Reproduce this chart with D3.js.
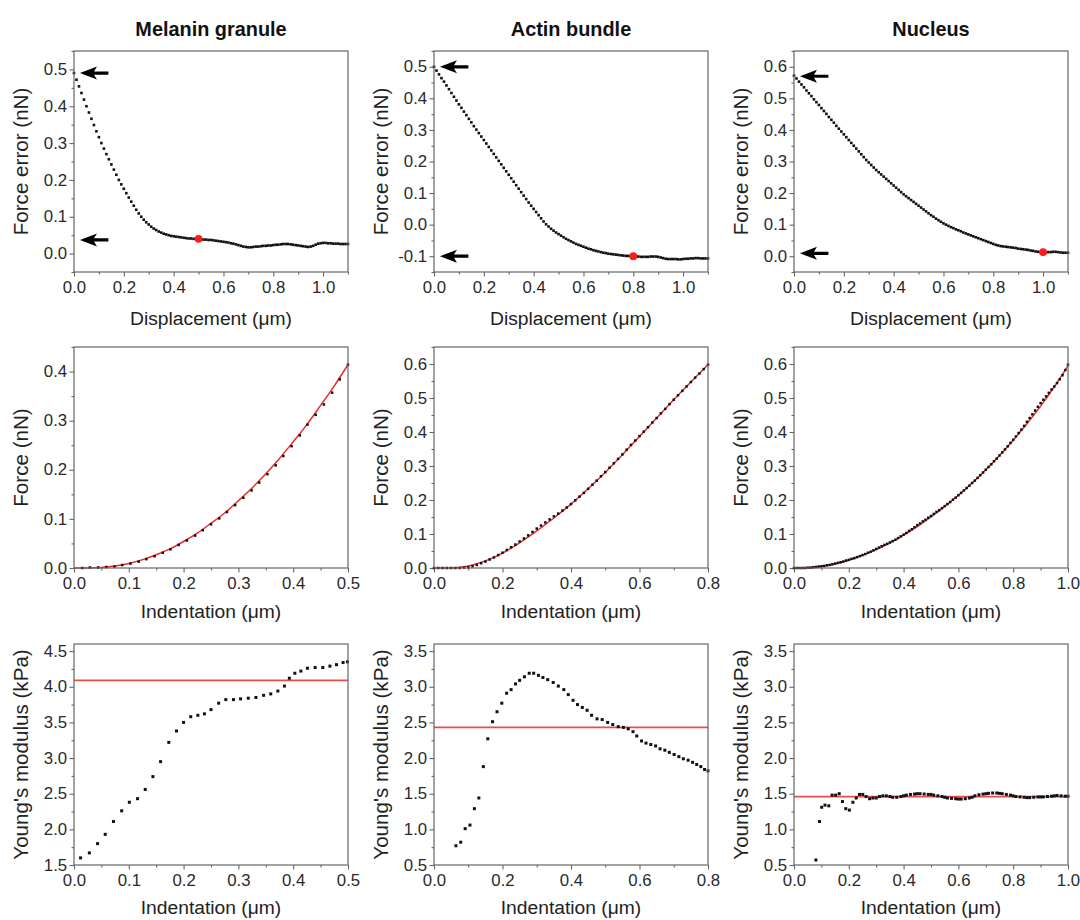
<!DOCTYPE html>
<html>
<head>
<meta charset="utf-8">
<script src="https://cdn.jsdelivr.net/npm/d3@7"></script>
<style>
  body { margin: 0; background: #fff; }
  svg { display: block; font-family: "Liberation Sans", Arial, sans-serif; }
</style>
</head>
<body>
<svg id="chart" width="1080" height="920"></svg>
<script>
// ---- data ----
const panelTitles = ["Melanin granule", "Actin bundle", "Nucleus"];

// row 1: force error vs displacement, one sample every 0.01 um from 0 to 1.1
const dispStep = 0.01;
const melaninForceError = [
  0.490,0.472,0.454,0.436,0.418,0.400,0.383,0.366,0.349,0.332,
  0.316,0.300,0.285,0.270,0.256,0.242,0.228,0.214,0.200,0.188,
  0.176,0.164,0.152,0.141,0.130,0.119,0.109,0.100,0.092,0.085,
  0.079,0.073,0.068,0.064,0.060,0.057,0.054,0.052,0.050,0.048,
  0.047,0.046,0.045,0.044,0.043,0.042,0.041,0.041,0.040,0.040,
  0.040,0.039,0.038,0.038,0.037,0.037,0.036,0.035,0.034,0.033,
  0.032,0.031,0.030,0.028,0.027,0.025,0.023,0.021,0.019,0.018,
  0.017,0.017,0.018,0.019,0.019,0.020,0.021,0.021,0.022,0.022,
  0.023,0.024,0.024,0.025,0.026,0.026,0.026,0.025,0.024,0.023,
  0.022,0.021,0.020,0.019,0.018,0.019,0.021,0.024,0.027,0.028,
  0.029,0.029,0.028,0.028,0.027,0.027,0.027,0.026,0.026,0.026,0.026
];
const actinForceError = [
  0.500,0.488,0.476,0.464,0.453,0.441,0.429,0.417,0.405,0.393,
  0.381,0.370,0.358,0.347,0.335,0.324,0.312,0.301,0.290,0.279,
  0.268,0.257,0.246,0.235,0.224,0.213,0.202,0.191,0.180,0.169,
  0.158,0.147,0.136,0.125,0.114,0.103,0.092,0.081,0.070,0.060,
  0.050,0.040,0.030,0.020,0.010,0.001,-0.006,-0.013,-0.019,-0.025,
  -0.030,-0.035,-0.040,-0.045,-0.049,-0.053,-0.057,-0.061,-0.064,-0.067,
  -0.070,-0.073,-0.076,-0.078,-0.081,-0.083,-0.085,-0.087,-0.089,-0.090,
  -0.092,-0.093,-0.094,-0.095,-0.096,-0.097,-0.098,-0.099,-0.099,-0.100,
  -0.100,-0.101,-0.101,-0.102,-0.102,-0.102,-0.102,-0.101,-0.101,-0.101,
  -0.102,-0.104,-0.106,-0.108,-0.109,-0.109,-0.109,-0.109,-0.110,-0.110,
  -0.109,-0.108,-0.108,-0.107,-0.107,-0.106,-0.106,-0.107,-0.107,-0.107,-0.107
];
const nucleusForceError = [
  0.572,0.563,0.553,0.544,0.535,0.525,0.516,0.507,0.497,0.488,
  0.479,0.469,0.460,0.451,0.441,0.432,0.423,0.413,0.404,0.395,
  0.386,0.377,0.368,0.359,0.350,0.341,0.332,0.323,0.314,0.305,
  0.297,0.289,0.281,0.273,0.266,0.259,0.252,0.245,0.238,0.231,
  0.224,0.217,0.210,0.203,0.196,0.190,0.184,0.178,0.172,0.166,
  0.160,0.154,0.148,0.142,0.136,0.130,0.125,0.119,0.114,0.109,
  0.104,0.100,0.096,0.092,0.089,0.085,0.082,0.079,0.075,0.072,
  0.069,0.066,0.063,0.060,0.057,0.054,0.051,0.048,0.045,0.042,
  0.039,0.036,0.034,0.032,0.031,0.030,0.029,0.028,0.027,0.026,
  0.024,0.023,0.022,0.021,0.020,0.018,0.017,0.015,0.014,0.013,
  0.012,0.012,0.013,0.013,0.014,0.014,0.013,0.012,0.011,0.011,0.011
];
const contactX = [0.5, 0.8, 1.0];
const contactY = [0.04, -0.1, 0.0125];
const arrowTopY = [0.49, 0.5, 0.57];
const arrowBottomY = [0.037, -0.1, 0.009];
const arrowTipX = 0.024, arrowTailX = 0.138;

// row 2: force vs indentation
const melaninIndent = [0.015,0.029,0.044,0.059,0.074,0.088,0.103,0.118,0.132,0.147,
  0.162,0.176,0.191,0.206,0.221,0.235,0.250,0.265,0.279,0.294,0.309,0.324,0.338,
  0.353,0.368,0.382,0.397,0.412,0.426,0.441,0.456,0.471,0.485,0.500];
const melaninForce = [0.000,0.001,0.001,0.002,0.003,0.006,0.009,0.013,0.018,0.024,
  0.031,0.038,0.047,0.056,0.066,0.077,0.089,0.101,0.114,0.128,0.143,0.158,0.174,
  0.191,0.209,0.228,0.248,0.270,0.292,0.312,0.333,0.357,0.384,0.414];
const melaninFitStep = 0.025;
const melaninForceFit = [0.000,0.000,0.001,0.004,0.009,0.017,0.027,0.039,0.054,0.071,
  0.091,0.112,0.137,0.163,0.192,0.223,0.257,0.292,0.331,0.371,0.414];

const actinIndentStep = 0.0125;
const actinForce = [0.000,
  0.000,0.000,0.000,0.000,0.000,0.000,0.001,0.002,0.005,0.009,
  0.014,0.019,0.025,0.031,0.038,0.045,0.053,0.061,0.069,0.078,
  0.087,0.096,0.106,0.116,0.125,0.134,0.143,0.152,0.160,0.169,
  0.178,0.188,0.199,0.210,0.221,0.233,0.245,0.257,0.270,0.282,
  0.295,0.308,0.321,0.334,0.348,0.362,0.375,0.388,0.401,0.414,
  0.428,0.441,0.455,0.468,0.482,0.495,0.508,0.521,0.534,0.547,
  0.560,0.572,0.585,0.598];
const actinFitStep = 0.05;
const actinForceFit = [0.000,0.000,0.006,0.021,0.044,0.074,0.109,0.147,0.188,
  0.233,0.281,0.333,0.387,0.441,0.495,0.547,0.598];

const nucleusIndentStep = 0.01;
const nucleusForce = [0.000,
  0.000,0.000,0.000,0.000,0.001,0.001,0.002,0.003,0.004,0.005,
  0.006,0.008,0.009,0.011,0.013,0.015,0.017,0.019,0.022,0.024,
  0.027,0.029,0.032,0.035,0.038,0.041,0.045,0.048,0.052,0.056,
  0.060,0.064,0.068,0.071,0.075,0.079,0.083,0.088,0.093,0.098,
  0.103,0.109,0.114,0.120,0.126,0.131,0.137,0.142,0.148,0.153,
  0.159,0.165,0.170,0.176,0.182,0.188,0.194,0.201,0.207,0.214,
  0.221,0.228,0.235,0.242,0.250,0.257,0.265,0.273,0.281,0.289,
  0.297,0.305,0.314,0.322,0.331,0.340,0.349,0.358,0.368,0.377,
  0.387,0.397,0.407,0.418,0.430,0.441,0.452,0.463,0.474,0.485,
  0.495,0.505,0.515,0.525,0.534,0.544,0.555,0.567,0.582,0.598];
const nucleusFitStep = 0.05;
const nucleusForceFit = [0.000,0.001,0.005,0.012,0.023,0.037,0.054,0.074,0.097,0.122,
  0.150,0.181,0.214,0.250,0.289,0.331,0.376,0.424,0.476,0.533,0.595];

// row 3: Young's modulus vs indentation
const melaninModX = [0.012,0.028,0.043,0.057,0.072,0.087,0.101,0.116,0.130,0.144,
  0.158,0.173,0.187,0.200,0.213,0.226,0.238,0.250,0.264,0.277,0.291,0.304,0.318,
  0.332,0.346,0.359,0.372,0.384,0.393,0.403,0.414,0.426,0.440,0.454,0.467,0.479,0.491,0.499];
const melaninModY = [1.60,1.67,1.80,1.93,2.11,2.26,2.38,2.43,2.56,2.74,
  2.95,3.22,3.38,3.50,3.58,3.60,3.62,3.68,3.77,3.82,3.82,3.83,3.84,
  3.85,3.88,3.90,3.94,4.01,4.12,4.19,4.22,4.26,4.27,4.27,4.29,4.31,4.34,4.35];
const actinModX = [0.064,0.078,0.091,0.105,0.118,0.131,0.144,0.157,0.171,0.184,
  0.198,0.212,0.225,0.238,0.250,0.264,0.278,0.291,0.305,0.318,
  0.332,0.348,0.363,0.379,0.392,0.406,0.419,0.433,0.447,0.460,
  0.476,0.491,0.507,0.522,0.538,0.553,0.567,0.581,0.592,0.606,
  0.619,0.633,0.647,0.660,0.674,0.687,0.701,0.715,0.728,0.742,
  0.755,0.767,0.779,0.790,0.800];
const actinModY = [0.77,0.82,1.01,1.06,1.29,1.44,1.88,2.27,2.51,2.65,
  2.77,2.91,2.96,3.04,3.09,3.14,3.19,3.19,3.16,3.13,
  3.10,3.06,3.01,2.96,2.89,2.81,2.75,2.71,2.67,2.60,
  2.55,2.54,2.50,2.47,2.44,2.43,2.41,2.37,2.31,2.24,
  2.21,2.19,2.17,2.13,2.11,2.08,2.05,2.02,1.99,1.97,
  1.94,1.91,1.88,1.84,1.82];
const nucleusModX = [0.080,0.093,0.101,0.113,0.127,0.139,0.152,0.165,0.177,0.189,
  0.202,0.215,0.227,0.239,0.251,0.263,0.276,0.288,0.300,0.312,0.324,0.337,
  0.35,0.36,0.375,0.39,0.40,0.41,0.425,0.44,0.45,0.46,
  0.475,0.49,0.50,0.51,0.525,0.54,0.55,0.56,0.575,0.59,
  0.60,0.61,0.625,0.64,0.65,0.66,0.675,0.69,0.70,0.71,
  0.725,0.74,0.75,0.76,0.775,0.79,0.80,0.81,0.825,0.84,
  0.85,0.86,0.875,0.89,0.90,0.91,0.925,0.94,0.95,0.96,
  0.975,0.99,1.00];
const nucleusModY = [0.57,1.11,1.31,1.34,1.33,1.48,1.48,1.50,1.39,1.29,
  1.27,1.38,1.44,1.49,1.49,1.46,1.43,1.44,1.44,1.46,1.47,1.47,
  1.46,1.45,1.45,1.46,1.47,1.48,1.49,1.495,1.50,1.50,
  1.495,1.49,1.49,1.48,1.47,1.46,1.45,1.44,1.435,1.43,
  1.425,1.425,1.43,1.44,1.45,1.47,1.485,1.495,1.50,1.505,
  1.51,1.51,1.505,1.50,1.49,1.48,1.47,1.46,1.455,1.45,
  1.445,1.445,1.45,1.455,1.455,1.455,1.46,1.465,1.47,1.475,
  1.47,1.465,1.465];
const modulusFit = [4.09, 2.43, 1.46];

// tick labels
const dispTicks = [0, 0.2, 0.4, 0.6, 0.8, 1.0];
const errTicks = [[0, 0.1, 0.2, 0.3, 0.4, 0.5], [-0.1, 0, 0.1, 0.2, 0.3, 0.4, 0.5], [0, 0.1, 0.2, 0.3, 0.4, 0.5, 0.6]];
const indentTicks = [[0, 0.1, 0.2, 0.3, 0.4, 0.5], [0, 0.2, 0.4, 0.6, 0.8], [0, 0.2, 0.4, 0.6, 0.8, 1.0]];
const forceTicks = [[0, 0.1, 0.2, 0.3, 0.4], [0, 0.1, 0.2, 0.3, 0.4, 0.5, 0.6], [0, 0.1, 0.2, 0.3, 0.4, 0.5, 0.6]];
const modTicks = [[1.5, 2.0, 2.5, 3.0, 3.5, 4.0, 4.5], [0.5, 1.0, 1.5, 2.0, 2.5, 3.0, 3.5], [0.5, 1.0, 1.5, 2.0, 2.5, 3.0, 3.5]];

// ---- layout ----
const svg = d3.select("#chart");
const colLeft = [74, 434, 794];
const rowTop = [51, 347, 644];
const xTitleGap = [53, 50, 49];
const plotW = 274, plotH = 221;
const red = "#ec2a2a";
const tickStretch = 1.05;

function minorTicks(ticks, domain) {
    let step = ticks[1] - ticks[0];
    let out = [];
    for (let v = ticks[0] - step / 2; v >= domain[0] - 1e-9; v -= step) out.push(v);
    ticks.forEach(t => { if (t + step / 2 <= domain[1] + 1e-9) out.push(t + step / 2); });
    return out;
}

function styleAxis(sel) {
    sel.select(".domain").remove();
    sel.selectAll("line").attr("stroke", "#666").attr("stroke-width", 1.1);
    sel.selectAll("text")
        .attr("font-size", 16)
        .attr("fill", "#2a2a2a")
        .attr("font-family", "Liberation Sans, Arial, sans-serif");
}

function drawPanel(cfg) {
    const g = svg.append("g").attr("transform", `translate(${cfg.left},${cfg.top})`);
    const x = d3.scaleLinear().domain(cfg.xDomain).range([0, plotW]);
    const y = d3.scaleLinear().domain(cfg.yDomain).range([plotH, 0]);
    const fmt = d => d.toFixed(1);

    // minor ticks first, then major ones
    g.append("g").attr("transform", `translate(0,${plotH})`)
        .call(d3.axisBottom(x).tickValues(minorTicks(cfg.xTicks, cfg.xDomain)).tickSize(2.5).tickFormat(""))
        .call(styleAxis);
    g.append("g")
        .call(d3.axisLeft(y).tickValues(minorTicks(cfg.yTicks, cfg.yDomain)).tickSize(2.5).tickFormat(""))
        .call(styleAxis);
    let xa = g.append("g").attr("transform", `translate(0,${plotH})`)
        .call(d3.axisBottom(x).tickValues(cfg.xTicks).tickSize(4.5).tickPadding(5).tickFormat(fmt).tickSizeOuter(0))
        .call(styleAxis);
    xa.selectAll("text").attr("transform", `scale(${tickStretch},1)`);
    let ya = g.append("g")
        .call(d3.axisLeft(y).tickValues(cfg.yTicks).tickSize(4.5).tickPadding(2).tickFormat(fmt).tickSizeOuter(0))
        .call(styleAxis);
    ya.selectAll("text").attr("transform", `scale(${tickStretch},1)`);

    // fit lines
    if (cfg.fitCurve) {
        g.append("path")
            .datum(cfg.fitCurve)
            .attr("fill", "none")
            .attr("stroke", red)
            .attr("stroke-width", 1.5)
            .attr("d", d3.line().x(d => x(d[0])).y(d => y(d[1])).curve(d3.curveMonotoneX));
    }
    if (cfg.fitLevel !== undefined) {
        g.append("line")
            .attr("x1", x(cfg.xDomain[0])).attr("x2", x(cfg.xDomain[1]))
            .attr("y1", y(cfg.fitLevel)).attr("y2", y(cfg.fitLevel))
            .attr("stroke", red).attr("stroke-opacity", 0.85).attr("stroke-width", 1.8);
    }

    // data points
    const s = cfg.dotSize;
    g.append("g").selectAll("rect")
        .data(cfg.points)
        .join("rect")
        .attr("x", d => x(d[0]) - s / 2)
        .attr("y", d => y(d[1]) - s / 2)
        .attr("width", s)
        .attr("height", s)
        .attr("fill", "#111");

    // contact point + arrows (row 1 only)
    if (cfg.contact) {
        g.append("circle")
            .attr("cx", x(cfg.contact[0])).attr("cy", y(cfg.contact[1]))
            .attr("r", 3.9).attr("fill", "#ff1a1a");
        cfg.arrows.forEach(v => {
            let tx = x(arrowTipX), ex = x(arrowTailX), ay = y(v);
            g.append("path")
                .attr("d", `M${tx},${ay} L${tx + 17},${ay - 6.5} L${tx + 14},${ay - 1.6} L${ex},${ay - 1.6} L${ex},${ay + 1.6} L${tx + 14},${ay + 1.6} L${tx + 17},${ay + 6.5} Z`)
                .attr("fill", "#000");
        });
    }

    // frame
    g.append("rect")
        .attr("width", plotW).attr("height", plotH)
        .attr("fill", "none").attr("stroke", "#666").attr("stroke-width", 1.2);

    // axis titles
    g.append("text")
        .attr("transform", `translate(${plotW / 2},${plotH + cfg.titleGap}) scale(1.07,1)`)
        .attr("text-anchor", "middle")
        .attr("font-size", 18)
        .attr("fill", "#222")
        .text(cfg.xLabel);
    g.append("text")
        .attr("transform", `translate(-46,${plotH / 2}) rotate(-90) scale(1.03,1)`)
        .attr("text-anchor", "middle")
        .attr("font-size", 20)
        .attr("fill", "#222")
        .text(cfg.yLabel);
}

const errSeries = [melaninForceError, actinForceError, nucleusForceError];
const errDomains = [[-0.05, 0.55], [-0.15, 0.55], [-0.05, 0.65]];
const forceDomains = [[0, 0.45], [0, 0.65], [0, 0.65]];
const indentDomains = [[0, 0.5], [0, 0.8], [0, 1.0]];
const modDomains = [[1.5, 4.6], [0.5, 3.6], [0.5, 3.6]];

const forcePoints = [
    melaninIndent.map((v, i) => [v, melaninForce[i]]),
    actinForce.map((v, i) => [i * actinIndentStep, v]),
    nucleusForce.map((v, i) => [i * nucleusIndentStep, v])
];
const forceFits = [
    melaninForceFit.map((v, i) => [i * melaninFitStep, v]),
    actinForceFit.map((v, i) => [i * actinFitStep, v]),
    nucleusForceFit.map((v, i) => [i * nucleusFitStep, v])
];
const modPoints = [
    melaninModX.map((v, i) => [v, melaninModY[i]]),
    actinModX.map((v, i) => [v, actinModY[i]]),
    nucleusModX.map((v, i) => [v, nucleusModY[i]])
];

for (let c = 0; c < 3; c++) {
    svg.append("text")
        .attr("transform", `translate(${colLeft[c] + plotW / 2},36) scale(1.02,1)`)
        .attr("text-anchor", "middle")
        .attr("font-size", 19.5)
        .attr("font-weight", "bold")
        .attr("fill", "#111")
        .text(panelTitles[c]);

    drawPanel({
        left: colLeft[c], top: rowTop[0], titleGap: xTitleGap[0],
        xDomain: [0, 1.1], yDomain: errDomains[c],
        xTicks: dispTicks, yTicks: errTicks[c],
        xLabel: "Displacement (μm)", yLabel: "Force error (nN)",
        points: errSeries[c].map((v, i) => [i * dispStep, v]),
        dotSize: 2.6,
        contact: [contactX[c], contactY[c]],
        arrows: [arrowTopY[c], arrowBottomY[c]]
    });
    drawPanel({
        left: colLeft[c], top: rowTop[1], titleGap: xTitleGap[1],
        xDomain: indentDomains[c], yDomain: forceDomains[c],
        xTicks: indentTicks[c], yTicks: forceTicks[c],
        xLabel: "Indentation (μm)", yLabel: "Force (nN)",
        points: forcePoints[c],
        dotSize: 2.5,
        fitCurve: forceFits[c]
    });
    drawPanel({
        left: colLeft[c], top: rowTop[2], titleGap: xTitleGap[2],
        xDomain: indentDomains[c], yDomain: modDomains[c],
        xTicks: indentTicks[c], yTicks: modTicks[c],
        xLabel: "Indentation (μm)", yLabel: "Young's modulus (kPa)",
        points: modPoints[c],
        dotSize: 3,
        fitLevel: modulusFit[c]
    });
}
</script>
</body>
</html>
